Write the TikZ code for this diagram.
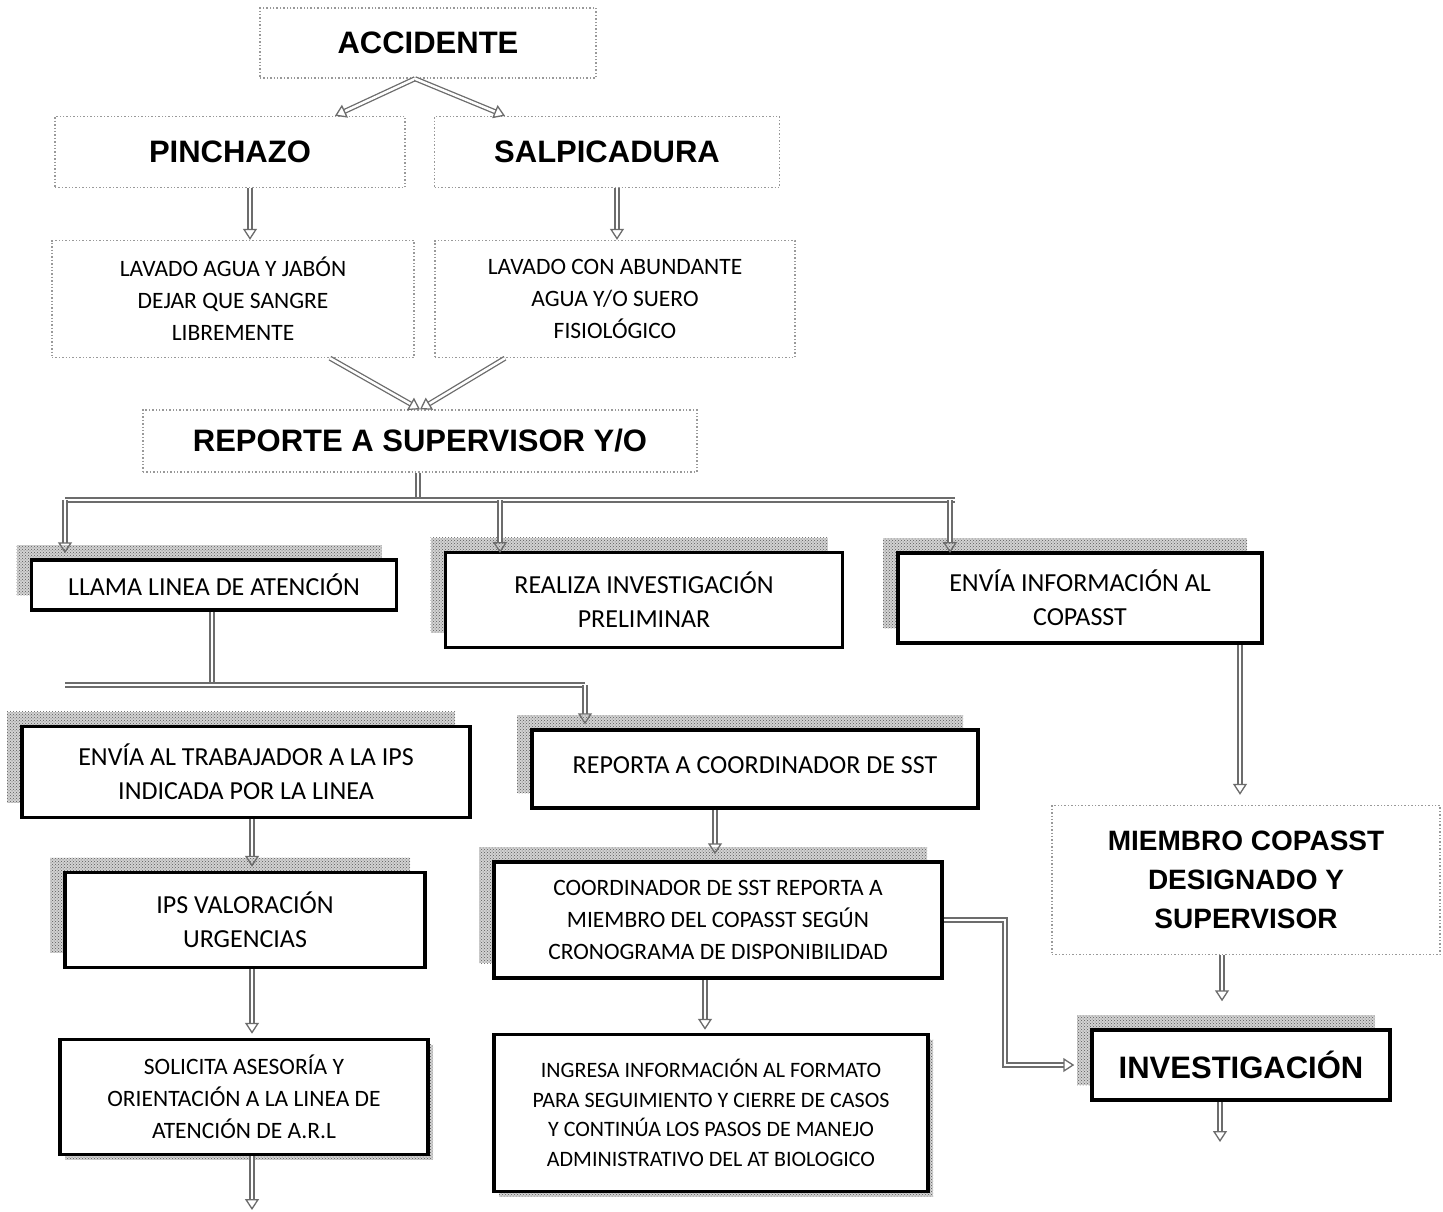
\documentclass[tikz,border=0pt]{standalone}
\usepackage{fontspec}
\newfontfamily\headfont{Liberation Sans}
\newfontfamily\bodyfont{Carlito}
\usetikzlibrary{arrows.meta,shadows,patterns,calc}
\begin{document}
\begin{tikzpicture}[x=1pt,y=-1pt,
  dotbox/.style={draw=gray!80, dotted, line width=1.4pt, fill=white, inner sep=0pt, align=center},
  blkbox/.style={draw=black, line width=3.5pt, fill=white, inner sep=0pt, align=center,
     general shadow={shadow xshift=-15pt, shadow yshift=15pt, fill=gray!35, postaction={pattern=crosshatch dots, pattern color=gray!70!black}}},
  blkboxr/.style={draw=black, line width=3.5pt, fill=white, inner sep=0pt, align=center,
     general shadow={shadow xshift=5pt, shadow yshift=-5pt, fill=gray!35, postaction={pattern=crosshatch dots, pattern color=gray!70!black}}},
  hd/.style={font=\headfont\bfseries\fontsize{31}{38}\selectfont},
  hdm/.style={font=\headfont\bfseries\fontsize{28}{39}\selectfont},
  bd/.style={font=\bodyfont\fontsize{26}{34}\selectfont},
  bds/.style={font=\bodyfont\fontsize{23.5}{32}\selectfont},
  bdx/.style={font=\bodyfont\fontsize{22}{29.5}\selectfont},
  dbl/.style={draw=gray!85!black, line width=1.3pt, double=white, double distance=2.5pt},
  arr/.style={dbl, -{Triangle[open,length=11pt,width=14pt]}}
]
\useasboundingbox (0,0) rectangle (1443,1211);
\fill[white] (0,0) rectangle (1443,1211);

% top part
\node[dotbox, hd, minimum width=336pt, minimum height=70pt] (acc) at (428,43) {ACCIDENTE};
\node[dotbox, hd, minimum width=350pt, minimum height=71pt] (pin) at (230,152) {PINCHAZO};
\node[dotbox, hd, minimum width=345pt, minimum height=71pt] (sal) at (607,152) {SALPICADURA};
\node[dotbox, bds, minimum width=362pt, minimum height=117pt] (lav1) at (233,299) {LAVADO AGUA Y JAB\'ON\\DEJAR QUE SANGRE\\LIBREMENTE};
\node[dotbox, bds, minimum width=360pt, minimum height=117pt] (lav2) at (615,299) {LAVADO CON ABUNDANTE\\AGUA Y/O SUERO\\FISIOL\'OGICO};
\node[dotbox, hd, minimum width=554pt, minimum height=62pt] (rep) at (420,441) {REPORTE A SUPERVISOR Y/O};

% second level
\node[blkbox, bd, minimum width=365pt, minimum height=50pt] (llama) at (214,585) {LLAMA LINEA DE ATENCI\'ON};
\node[blkbox, bd, minimum width=397pt, minimum height=95pt] (realiza) at (644,600) {REALIZA INVESTIGACI\'ON\\PRELIMINAR};
\node[blkbox, bd, minimum width=364pt, minimum height=90pt] (envinfo) at (1080,598) {ENV\'IA INFORMACI\'ON AL\\COPASST};

% left column
\node[blkbox, bd, minimum width=448pt, minimum height=91pt] (envtrab) at (246,772) {ENV\'IA AL TRABAJADOR A LA IPS\\INDICADA POR LA LINEA};
\node[blkbox, bd, minimum width=360pt, minimum height=95pt] (ips) at (245,920) {IPS VALORACI\'ON\\URGENCIAS};
\node[blkboxr, bds, minimum width=368pt, minimum height=115pt] (solic) at (244,1097) {SOLICITA ASESOR\'IA Y\\ORIENTACI\'ON A LA LINEA DE\\ATENCI\'ON DE A.R.L};

% middle column
\node[blkbox, bd, minimum width=446pt, minimum height=78pt] (reporta) at (755,769) {\raisebox{7pt}{REPORTA A COORDINADOR DE SST}};
\node[blkbox, bds, minimum width=448pt, minimum height=116pt] (coord) at (718,920) {COORDINADOR DE SST REPORTA A\\MIEMBRO DEL COPASST SEG\'UN\\CRONOGRAMA DE DISPONIBILIDAD};
\node[blkboxr, bdx, minimum width=434pt, minimum height=157pt] (ingresa) at (711,1113) {INGRESA INFORMACI\'ON AL FORMATO\\PARA SEGUIMIENTO Y CIERRE DE CASOS\\Y CONTIN\'UA LOS PASOS DE MANEJO\\ADMINISTRATIVO DEL AT BIOLOGICO};

% right column
\node[dotbox, hdm, minimum width=388pt, minimum height=149pt] (miembro) at (1246,880) {MIEMBRO COPASST\\DESIGNADO Y\\SUPERVISOR};
\node[blkbox, hd, minimum width=298pt, minimum height=70pt] (invest) at (1241,1065) {INVESTIGACI\'ON};

% coordinates
\coordinate (bar1) at (418,500);
\coordinate (bar1L) at (65,500);
\coordinate (bar1R) at (955,500);
\coordinate (bar2) at (212,685);
\coordinate (bar2L) at (65,685);
\coordinate (bar2R) at (585,685);
\coordinate (elb) at (1005,920);
\coordinate (endL) at (252,1210);
\coordinate (endR) at (1220,1142);

% connectors top
\draw[arr] ([xshift=-13pt]acc.south) -- ([xshift=105pt]pin.north);
\draw[arr] ([xshift=-13pt]acc.south) -- ([xshift=-102pt]sal.north);
\draw[arr] ([xshift=20pt]pin.south) -- ([xshift=20pt]pin.south |- lav1.north);
\draw[arr] ([xshift=10pt]sal.south) -- ([xshift=10pt]sal.south |- lav2.north);
\draw[arr] ([xshift=97pt]lav1.south) -- (rep.north);
\draw[arr] ([xshift=-110pt]lav2.south) -- (rep.north);

% first bar
\draw[dbl] (rep.south -| bar1) -- (bar1);
\draw[dbl] (bar1L) -- (bar1R);
\draw[arr] (bar1L) -- ([yshift=5pt]bar1L |- llama.north);
\draw[arr] (500,500) -- (500,553);
\draw[arr] (950,500) -- (950,553);

% second bar
\draw[dbl] (llama.south -| bar2) -- (bar2);
\draw[dbl] (bar2L) -- (bar2R);
\draw[arr] (bar2R) -- ([yshift=4pt]bar2R |- reporta.north);

% left column arrows
\draw[arr] (envtrab.south -| 252,0) -- ([yshift=4pt]ips.north -| 252,0);
\draw[arr] (ips.south -| 252,0) -- ([yshift=4pt]solic.north -| 252,0);
\draw[arr] (solic.south -| endL) -- (endL);

% middle column arrows
\draw[arr] (reporta.south -| 715,0) -- ([yshift=6pt]coord.north -| 715,0);
\draw[arr] (coord.south -| 705,0) -- ([yshift=3pt]ingresa.north -| 705,0);
\draw[arr] (coord.east) -- (elb) -- (elb |- invest.west) -- ([xshift=-16pt]invest.west);

% right column arrows
\draw[arr] (envinfo.south -| 1240,0) -- ([yshift=10pt]miembro.north -| 1240,0);
\draw[arr] (miembro.south -| 1222,0) -- ([yshift=27pt]invest.north -| 1222,0);
\draw[arr] (invest.south -| endR) -- (endR);
\end{tikzpicture}
\end{document}
